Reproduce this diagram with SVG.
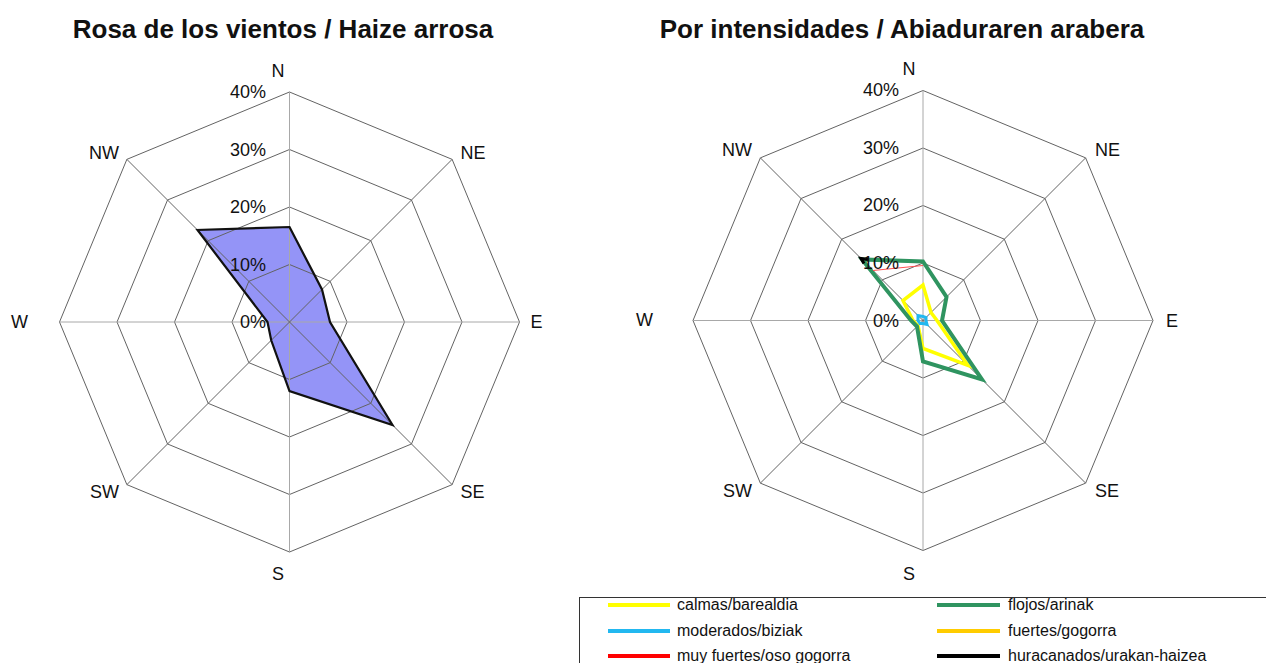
<svg xmlns="http://www.w3.org/2000/svg" width="1266" height="663" viewBox="0 0 1266 663">
<style>
.title{font-family:"Liberation Sans",Arial,sans-serif;font-size:26px;font-weight:bold;fill:#111}
.dir{font-family:"Liberation Sans",Arial,sans-serif;font-size:18px;fill:#111}
.pct{font-family:"Liberation Sans",Arial,sans-serif;font-size:18px;fill:#111;text-anchor:end}
.leg{font-family:"Liberation Sans",Arial,sans-serif;font-size:16px;fill:#111}
.ring{fill:none;stroke:#636363;stroke-width:1}
.axis{stroke:#a8a8a8;stroke-width:1}
.diag{stroke:#636363;stroke-width:1}
.ser{fill:none;stroke-linejoin:miter}
</style>
<defs>
<g id="grid">
<polygon class="ring" points="0,-57.5 40.66,-40.66 57.5,0 40.66,40.66 0,57.5 -40.66,40.66 -57.5,0 -40.66,-40.66"/>
<polygon class="ring" points="0,-115 81.32,-81.32 115,0 81.32,81.32 0,115 -81.32,81.32 -115,0 -81.32,-81.32"/>
<polygon class="ring" points="0,-172.5 121.98,-121.98 172.5,0 121.98,121.98 0,172.5 -121.98,121.98 -172.5,0 -121.98,-121.98"/>
<polygon class="ring" points="0,-230 162.63,-162.63 230,0 162.63,162.63 0,230 -162.63,162.63 -230,0 -162.63,-162.63"/>
<line class="axis" x1="0" y1="-230" x2="0" y2="230"/>
<line class="axis" x1="-230" y1="0" x2="230" y2="0"/>
<line class="diag" x1="-162.63" y1="-162.63" x2="162.63" y2="162.63"/>
<line class="diag" x1="162.63" y1="-162.63" x2="-162.63" y2="162.63"/>
</g>
</defs>
<rect width="1266" height="663" fill="#ffffff"/>

<g id="chart-left">
<text class="title" x="283" y="38" text-anchor="middle">Rosa de los vientos / Haize arrosa</text>
<g transform="translate(289.5,322)">
<polygon points="0,-95 32.5,-32.5 40.5,0 103,103 0,69 -18.3,18.3 -22,0 -92,-92" fill="#9494f7"/>
<use href="#grid"/>
<polygon class="ser" points="0,-95 32.5,-32.5 40.5,0 103,103 0,69 -18.3,18.3 -22,0 -92,-92" stroke="#111" stroke-width="2.2"/>
</g>
<g id="left-pct">
<text class="pct" x="266" y="328">0%</text>
<text class="pct" x="266" y="270.5">10%</text>
<text class="pct" x="266" y="213">20%</text>
<text class="pct" x="266" y="155.5">30%</text>
<text class="pct" x="266" y="98">40%</text>
</g>
<g id="left-dirs">
<text class="dir" x="278" y="77" text-anchor="middle">N</text>
<text class="dir" x="460.5" y="158.5">NE</text>
<text class="dir" x="530.5" y="328">E</text>
<text class="dir" x="460.5" y="498">SE</text>
<text class="dir" x="278" y="580" text-anchor="middle">S</text>
<text class="dir" x="119" y="498" text-anchor="end">SW</text>
<text class="dir" x="28" y="328" text-anchor="end">W</text>
<text class="dir" x="119" y="158.5" text-anchor="end">NW</text>
</g>
</g>

<g id="chart-right">
<text class="title" x="902" y="38" text-anchor="middle">Por intensidades / Abiaduraren arabera</text>
<g transform="translate(923,320.5)">
<use href="#grid"/>
<polygon class="ser" points="0,-35.5 8,-8 14,0 45,45 0,28 -5,5 -10,0 -20,-20" stroke="#ffff00" stroke-width="3.5"/>
<polygon class="ser" points="0,-59 23.5,-23.5 19,0 59,59 0,41 -6,6 -12,0 -61,-61" stroke="#2f9460" stroke-width="4"/>
<polygon class="ser" points="0,-4 3,-3 3,0 4,4 0,3 -3,3 -5,0 -5,-5" stroke="#22b8f0" stroke-width="3" fill="#22b8f0"/>
<polyline class="ser" points="-50,-50 0,-55" stroke="#ff5050" stroke-width="1"/>
<polyline class="ser" points="-55,-61 -62,-62 -59,-57" stroke="#000" stroke-width="3"/>
</g>
<g id="right-pct">
<text class="pct" x="899" y="326.5">0%</text>
<text class="pct" x="899" y="269">10%</text>
<text class="pct" x="899" y="211">20%</text>
<text class="pct" x="899" y="153.5">30%</text>
<text class="pct" x="899" y="96">40%</text>
</g>
<g id="right-dirs">
<text class="dir" x="909" y="75" text-anchor="middle">N</text>
<text class="dir" x="1095" y="156">NE</text>
<text class="dir" x="1166" y="327">E</text>
<text class="dir" x="1095" y="497">SE</text>
<text class="dir" x="909" y="580" text-anchor="middle">S</text>
<text class="dir" x="752" y="497" text-anchor="end">SW</text>
<text class="dir" x="653" y="326" text-anchor="end">W</text>
<text class="dir" x="752" y="156" text-anchor="end">NW</text>
</g>
</g>

<g id="legend">
<rect x="579.5" y="597.5" width="700" height="80" fill="#fff" stroke="#333" stroke-width="1"/>
<line x1="608" y1="605" x2="670" y2="605" stroke="#ffff00" stroke-width="4"/>
<text class="leg" x="677" y="610">calmas/barealdia</text>
<line x1="608" y1="631" x2="670" y2="631" stroke="#22b8f0" stroke-width="4"/>
<text class="leg" x="677" y="636">moderados/biziak</text>
<line x1="608" y1="656" x2="670" y2="656" stroke="#ff0000" stroke-width="4"/>
<text class="leg" x="677" y="661">muy fuertes/oso gogorra</text>
<line x1="937" y1="605" x2="1000" y2="605" stroke="#2f9460" stroke-width="4"/>
<text class="leg" x="1008" y="610">flojos/arinak</text>
<line x1="937" y1="631" x2="1000" y2="631" stroke="#ffcc00" stroke-width="4"/>
<text class="leg" x="1008" y="636">fuertes/gogorra</text>
<line x1="937" y1="656" x2="1000" y2="656" stroke="#000000" stroke-width="4"/>
<text class="leg" x="1008" y="661">huracanados/urakan-haizea</text>
</g>
</svg>
